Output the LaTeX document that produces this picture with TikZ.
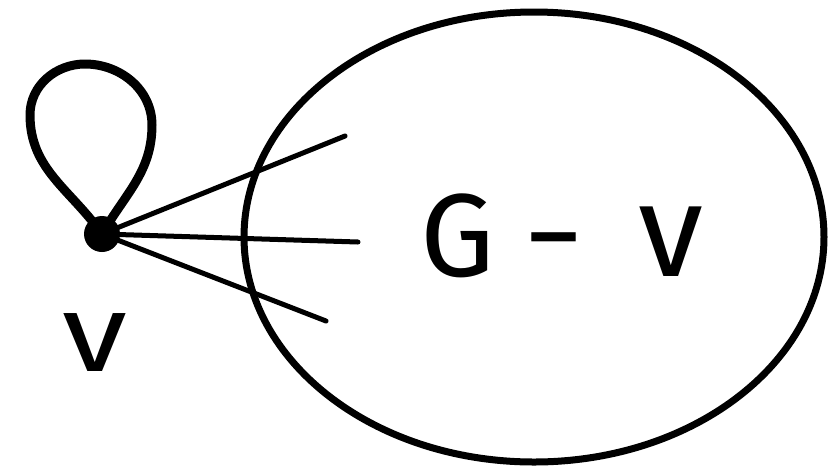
\documentclass[tikz,border=0pt]{standalone}
\usepackage{fontspec}
\setmainfont{Fira Sans}
\begin{document}
\begin{tikzpicture}[x=1pt,y=-1pt,
  stroke/.style={line width=7pt,line cap=round,line join=round},
  loopline/.style={line width=9pt,line cap=round,line join=round},
  edge/.style={line width=5pt,line cap=round},
  vertex/.style={circle,fill=black,inner sep=0pt,minimum size=36pt},
  lbl/.style={font=\fontsize{110}{110}\selectfont}]
\useasboundingbox (0,0) rectangle (830,475);
\draw[stroke] (534,237) ellipse [x radius=290, y radius=225];
\node[vertex] (v) at (102,234) {};
\coordinate (e1) at (345,136);
\coordinate (e2) at (358,242);
\coordinate (e3) at (326,321);
\draw[edge] (v.center) -- (e1);
\draw[edge] (v.center) -- (e2);
\draw[edge] (v.center) -- (e3);
\draw[loopline] (v.center) to[out=125,in=270] (30,115) to[out=90,in=180] (85,64)
  to[out=0,in=90] (152,125) to[out=270,in=60] (v.center);
\node[lbl] (vl) at (95,343) {\scalebox{1.2}[1]{v}};
\node[font=\fontsize{118}{118}\selectfont] (gv) at (562,236) {G\hspace{30pt}−\hspace{55pt}\scalebox{1.12}{v}};
\end{tikzpicture}
\end{document}
